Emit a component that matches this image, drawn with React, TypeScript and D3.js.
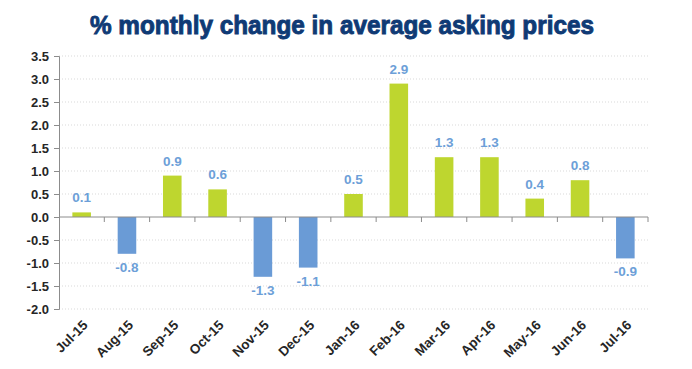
import { useEffect, useRef } from 'react'
import * as d3 from 'd3'

const W = 692, H = 369, M = { top: 56, right: 44, bottom: 60, left: 59 }

const months = ['Jul-15', 'Aug-15', 'Sep-15', 'Oct-15', 'Nov-15', 'Dec-15', 'Jan-16', 'Feb-16', 'Mar-16', 'Apr-16', 'May-16', 'Jun-16', 'Jul-16']
const change = [0.1, -0.8, 0.9, 0.6, -1.3, -1.1, 0.5, 2.9, 1.3, 1.3, 0.4, 0.8, -0.9]
const yTicks = [3.5, 3.0, 2.5, 2.0, 1.5, 1.0, 0.5, 0.0, -0.5, -1.0, -1.5, -2.0]

const GREEN = '#bed62f', BLUE = '#6a9bd6', LABEL = '#6d9fd8'
const FONT = 'Liberation Sans, Arial, sans-serif'

// plain hyphen for negatives, like the original
const fmt = (v: number) => v.toFixed(1)

export default function App() {
  const svgRef = useRef<SVGSVGElement>(null)

  useEffect(() => {
    const svg = d3.select(svgRef.current!)
    svg.selectAll('*').remove()

    const iw = W - M.left - M.right
    const ih = H - M.top - M.bottom

    const x = d3.scaleBand<string>().domain(months).range([0, iw]).paddingInner(0.59).paddingOuter(0.295)
    const y = d3.scaleLinear().domain([-2, 3.5]).range([ih, 0])

    // title
    svg.append('text')
      .attr('x', 342).attr('y', 34).attr('text-anchor', 'middle')
      .attr('font-family', FONT)
      .attr('font-weight', 'bold').attr('font-size', 25).attr('fill', '#0f3a75')
      .attr('stroke', '#0f3a75').attr('stroke-width', 0.9)
      .attr('textLength', 504).attr('lengthAdjust', 'spacingAndGlyphs')
      .text('% monthly change in average asking prices')

    const g = svg.append('g').attr('transform', `translate(${M.left},${M.top})`)

    // dotted gridlines
    yTicks.filter(t => t !== 0).forEach(t => {
      g.append('line')
        .attr('x1', 0).attr('x2', iw).attr('y1', y(t)).attr('y2', y(t))
        .attr('stroke', '#d9d9d9').attr('stroke-width', 1).attr('stroke-dasharray', '1 2')
    })

    // y axis
    g.append('g')
      .call(d3.axisLeft(y).tickValues(yTicks).tickSize(5).tickPadding(5).tickFormat(d => fmt(d as number)))
      .call(ax => ax.select('.domain').attr('stroke', '#8c8c8c').attr('d', `M-5,0.5H0.5V${ih + 0.5}H-5`))
      .call(ax => ax.selectAll('.tick line').attr('stroke', '#8c8c8c'))
      .call(ax => ax.selectAll<SVGTextElement, unknown>('.tick text')
        .attr('font-size', 13).attr('font-weight', 'bold').attr('font-family', FONT).attr('fill', '#262626'))

    // bars
    g.selectAll('rect.bar').data(change).enter().append('rect')
      .attr('x', (_, i) => x(months[i])!)
      .attr('width', x.bandwidth())
      .attr('y', v => y(Math.max(0, v)))
      .attr('height', v => Math.abs(y(v) - y(0)))
      .attr('fill', v => v >= 0 ? GREEN : BLUE)

    // zero line with category ticks
    const step = x.step()
    g.append('line').attr('x1', 0).attr('x2', iw).attr('y1', y(0)).attr('y2', y(0))
      .attr('stroke', '#8c8c8c').attr('stroke-width', 1)
    d3.range(1, months.length + 1).forEach(i => {
      g.append('line').attr('x1', i * step).attr('x2', i * step)
        .attr('y1', y(0)).attr('y2', y(0) + 5).attr('stroke', '#8c8c8c')
    })

    // value labels
    g.selectAll('text.val').data(change).enter().append('text')
      .attr('x', (_, i) => x(months[i])! + x.bandwidth() / 2)
      .attr('y', v => v >= 0 ? y(v) - 10 : y(v) + 18)
      .attr('text-anchor', 'middle')
      .attr('font-family', FONT).attr('font-weight', 'bold').attr('font-size', 13.5)
      .attr('fill', LABEL)
      .text(v => fmt(v))

    // x labels
    months.forEach(m => {
      const cx = x(m)! + x.bandwidth() / 2 + 7
      g.append('text')
        .attr('transform', `translate(${cx},${ih + 17}) rotate(-45)`)
        .attr('text-anchor', 'end')
        .attr('font-family', FONT).attr('font-weight', 'bold').attr('font-size', 13.5)
        .attr('fill', '#262626')
        .text(m)
    })
  }, [])

  return <svg ref={svgRef} width={W} height={H} style={{ position: 'absolute', left: 0, top: 0, background: '#fff' }} />
}
